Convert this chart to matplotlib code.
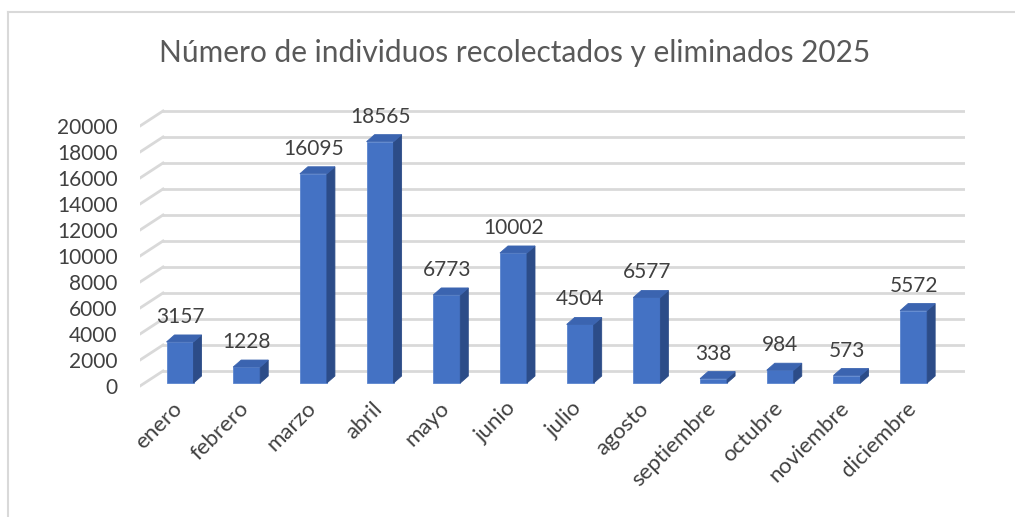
import matplotlib
matplotlib.use('Agg')
from matplotlib import pyplot as plt
from matplotlib.patches import Polygon
from matplotlib.lines import Line2D
import matplotlib.transforms as mtransforms

months = ['enero', 'febrero', 'marzo', 'abril', 'mayo', 'junio', 'julio',
          'agosto', 'septiembre', 'octubre', 'noviembre', 'diciembre']
counts = [3157, 1228, 16095, 18565, 6773, 10002, 4504, 6577, 338, 984, 573, 5572]
yticks = list(range(0, 20001, 2000))
title = 'Número de individuos recolectados y eliminados 2025'

plt.rcParams['font.family'] = ['Lato', 'DejaVu Sans']

# fake 3d offsets (x in category units, y in value units)
wall_dx, wall_dy = 0.345, 1154
bar_w = 0.405
side_dx, side_dy = 0.12, 538
base = 231

front_c = '#4472C4'
top_c = '#3B64B0'
side_c = '#2C4C88'
grid_c = '#D9D9D9'
text_c = '#404040'

fig = plt.figure(figsize=(10.15, 5.17), dpi=100)
W, H = 1015, 517
ax = fig.add_axes([140 / W, (H - 390) / H, 825 / W, 290 / H])
ax.set_xlim(-0.6, 11.77)
ax.set_ylim(-308, 22000)
for s in ax.spines.values():
    s.set_visible(False)

# back wall gridlines with slanted side wall
for v in yticks:
    ax.plot([-0.6 + wall_dx, 11.77], [v + wall_dy, v + wall_dy], color=grid_c, lw=2, zorder=1)
    ax.plot([-0.6, -0.6 + wall_dx], [v, v + wall_dy], color=grid_c, lw=2, zorder=1)

# bars
for i, v in enumerate(counts):
    x0, x1 = i - bar_w / 2, i + bar_w / 2
    y0, y1 = base, base + v
    ax.add_patch(Polygon([(x0, y0), (x1, y0), (x1, y1), (x0, y1)], closed=True,
                         facecolor=front_c, edgecolor='#5B85CF', lw=0.6, zorder=3))
    ax.add_patch(Polygon([(x1, y0), (x1 + side_dx, y0 + side_dy), (x1 + side_dx, y1 + side_dy), (x1, y1)],
                         closed=True, facecolor=side_c, edgecolor=side_c, lw=0.6, zorder=3))
    ax.add_patch(Polygon([(x0, y1), (x1, y1), (x1 + side_dx, y1 + side_dy), (x0 + side_dx, y1 + side_dy)],
                         closed=True, facecolor=top_c, edgecolor=top_c, lw=0.6, zorder=3))
    ax.annotate(str(v), (i, y1), xytext=(0, 18), textcoords='offset points',
                ha='center', va='center', fontsize=15, color=text_c, zorder=4)

ax.set_yticks(yticks)
ax.set_yticklabels([str(t) for t in yticks], fontsize=15, color=text_c)
ax.tick_params(axis='y', length=0, pad=16)

ax.set_xticks(range(len(months)))
ax.set_xticklabels(months, fontsize=16, color=text_c, rotation=45,
                   ha='right', va='center', rotation_mode='anchor')
ax.tick_params(axis='x', length=0, pad=11)
off = mtransforms.ScaledTranslation(-1 / 100, 0, fig.dpi_scale_trans)
for lab in ax.get_xticklabels():
    lab.set_transform(lab.get_transform() + off)

fig.text(515 / W, 1 - 53 / H, title, ha='center', va='center', fontsize=21.5, color='#595959')

# chart frame
fig.add_artist(Line2D([7.5 / W, 7.5 / W], [0, 1 - 11.5 / H], color='#D9D9D9', lw=1.5))
fig.add_artist(Line2D([7.5 / W, 1], [1 - 11.5 / H, 1 - 11.5 / H], color='#D9D9D9', lw=1.5))

fig.savefig('out.png', dpi=100)
